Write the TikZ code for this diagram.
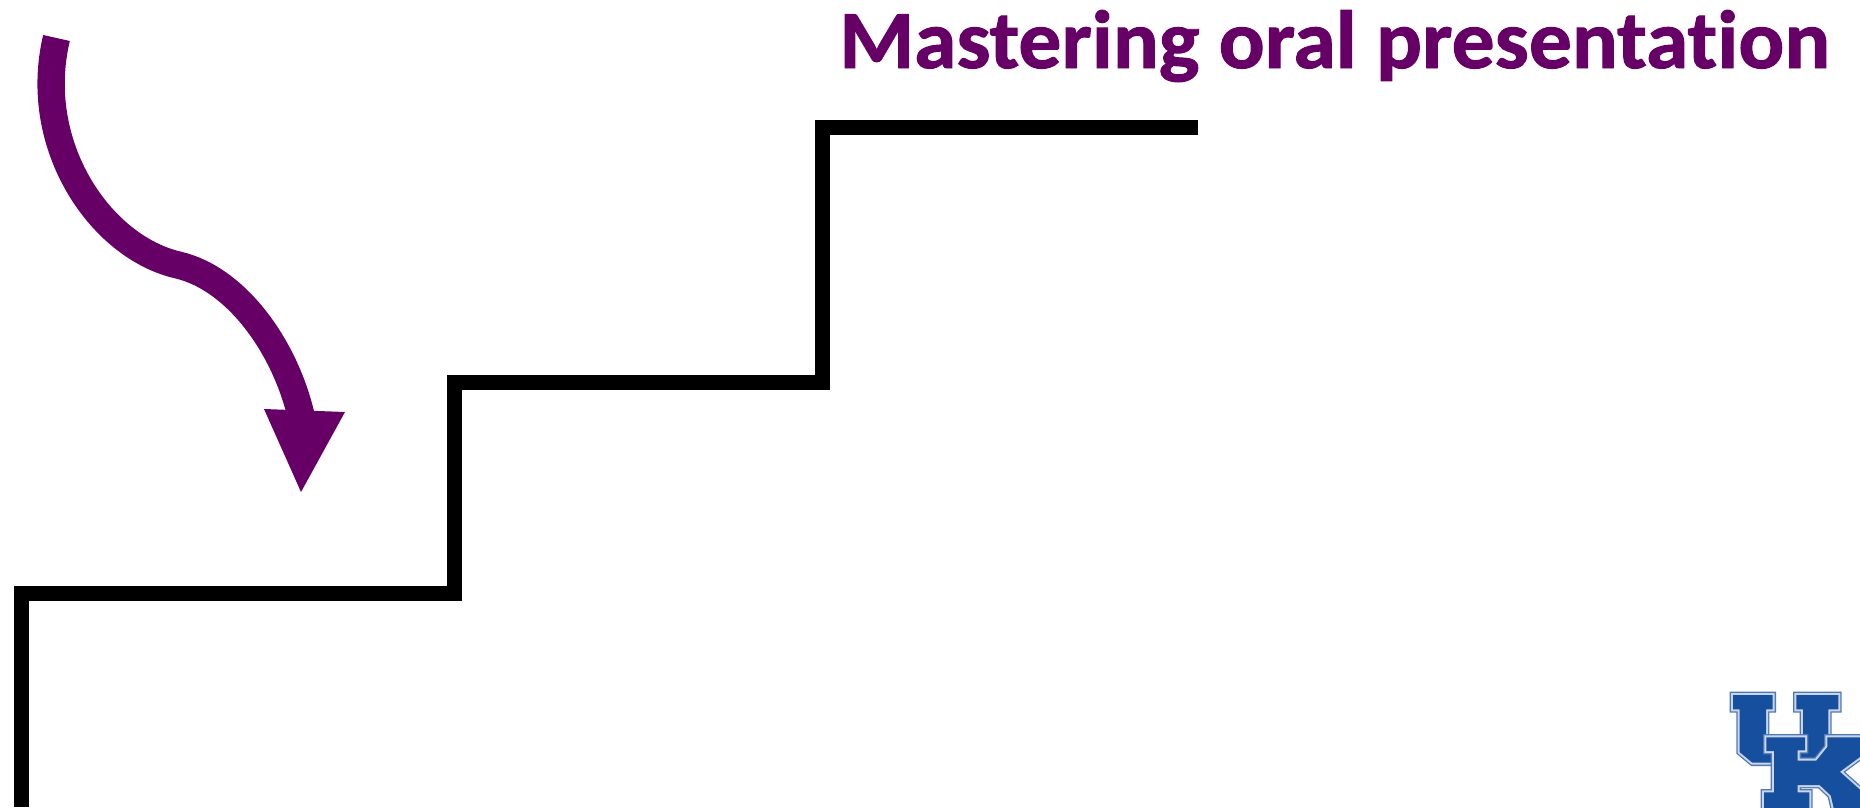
\documentclass[tikz,border=0pt]{standalone}
\usepackage{fontspec}
\setmainfont{Carlito}[Ligatures=NoCommon]
\newfontface\titlefont{Carlito Bold}[Ligatures=NoCommon,FakeBold=1.2,FakeStretch=1.036]
\definecolor{plum}{HTML}{660066}
\definecolor{ukblue}{HTML}{174F9F}
\definecolor{ukedge}{HTML}{4F78B6}
\definecolor{ukpale}{HTML}{C9D6EA}
\tikzset{
  stair/.style={draw=black,line width=11.25pt,miter limit=10},
  curvearrow/.style={draw=plum,line width=20.5pt},
  arrowhead/.style={fill=plum},
  titletext/.style={text=plum,font=\titlefont\fontsize{62}{62}\selectfont,inner sep=0pt,anchor=base west},
}
\newcommand{\ukshape}[1]{%
  \draw[ukedge,line width=6.5pt,line join=miter] #1;
  \draw[ukpale,line width=4.5pt,line join=miter] #1;
  \draw[ukblue,line width=1.5pt,fill=ukblue,line join=miter] #1;
}
\begin{document}
\begin{tikzpicture}[x=0.75pt,y=-0.75pt]
\useasboundingbox (0,0) rectangle (1860,807);
% stairs
\draw[stair] (21.5,807) -- (21.5,593) -- (454,593) -- (454,382) -- (822,382) -- (822,127) -- (1198,127);
% arrow
\draw[curvearrow] (56.5,38) .. controls (31,145) and (100,247) .. (178,265)
   .. controls (238,279) and (287,350) .. (302,420);
\fill[arrowhead] (264,409) -- (345,412) -- (301,492) -- cycle;
% title
\node[titletext] (title) at (839,68) {Mastering oral presentation};
% logo
\begin{scope}
\clip (1680,660) rectangle (1860,807);
\begin{scope}[shift={(1680,660)},x=0.25pt,y=-0.25pt]
\ukshape{(162,108) -- (275,108) -- (275,145) -- (255,145) -- (255,268) -- (275,268) -- (275,305) -- (218,305) -- (182,275) -- (182,145) -- (162,145) -- cycle}
\ukshape{(352,108) -- (472,108) -- (472,145) -- (442,145) -- (442,265) -- (410,305) -- (350,305) -- (350,268) -- (372,268) -- (372,145) -- (352,145) -- cycle}
\ukshape{(262,235) -- (372,235) -- (372,268) -- (350,268) -- (350,305) -- (410,305) -- (445,262) -- (445,235) -- (570,235) -- (570,265) -- (475,335) -- (570,420) -- (570,470) -- (470,470) -- (455,405) -- (420,372) -- (350,372) -- (350,400) -- (385,400) -- (385,470) -- (255,470) -- (255,400) -- (285,400) -- (285,270) -- (262,270) -- cycle}
\end{scope}
\end{scope}
\end{tikzpicture}
\end{document}
